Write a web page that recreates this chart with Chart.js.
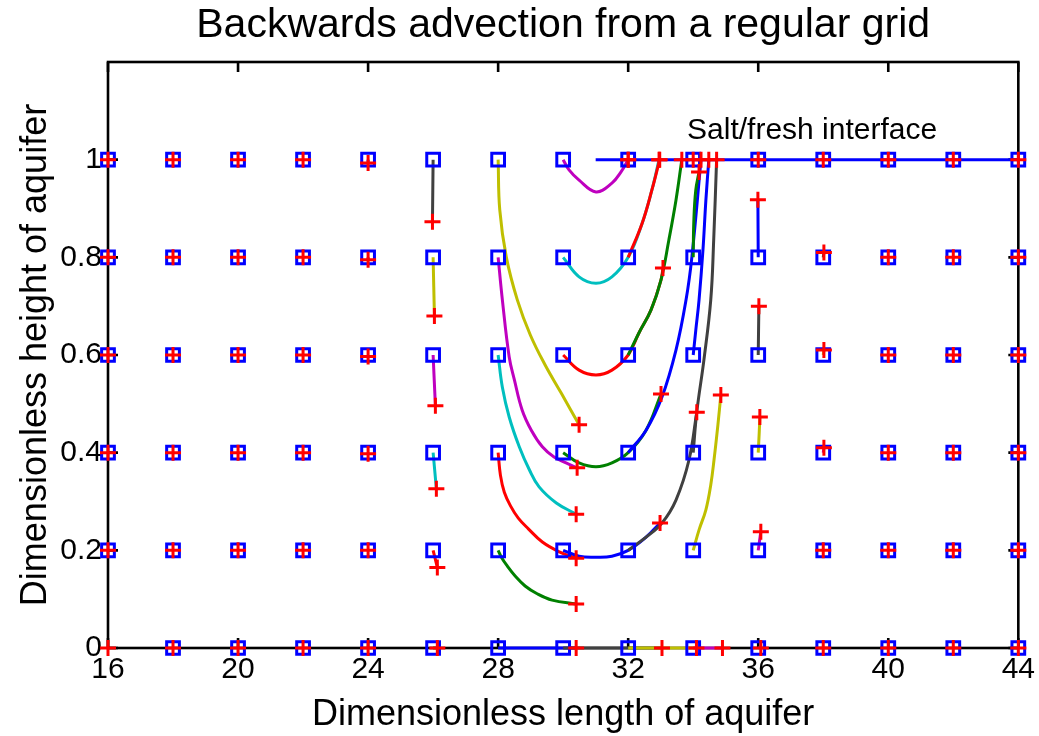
<!DOCTYPE html>
<html>
<head>
<meta charset="utf-8">
<script src="https://cdn.jsdelivr.net/npm/chart.js@4.4.1/dist/chart.umd.min.js"></script>
<style>
html,body{margin:0;padding:0;background:#fff;}
#wrap{width:1039px;height:736px;}
</style>
</head>
<body>
<div id="wrap"><canvas id="c" width="1039" height="736"></canvas></div>
<script>
// ---- data ----
const titleText = 'Backwards advection from a regular grid';
const xLabel = 'Dimensionless length of aquifer';
const yLabel = 'Dimensionless height of aquifer';
const noteText = 'Salt/fresh interface';
const noteX = 33.81, noteY = 1.060;

const gridX = [16,18,20,22,24,26,28,30,32,34,36,38,40,42,44];
const gridY = [0,0.2,0.4,0.6,0.8,1.0];
const xTicks = [16,20,24,28,32,36,40,44];
const yTicks = [0,0.2,0.4,0.6,0.8,1];

const interfaceX = [31, 44];
const interfaceY = [1, 1];

// trajectory of each grid point (column by column, rows y = 0 .. 1);
// first point = grid point (square), last point = end of backward advection (+)
const pathX = [
  // x = 16
  [16],[16],[16],[16],[16],[16],
  // x = 18
  [18],[18],[18],[18],[18],[18],
  // x = 20
  [20],[20],[20],[20],[20],[20],
  // x = 22
  [22],[22],[22],[22],[22],[22],
  // x = 24
  [24],[24],[24,24],[24,24],[24,24],[24,24],
  // x = 26
  [26,26.13],[26,26.13],[26,26.1],[26,26.07],[26,26.04],[26,25.98],
  // x = 28
  [28,30.40],
  [28,28.10,28.28,28.53,28.83,29.20,29.66,30.40],
  [28,28.07,28.19,28.38,28.62,28.93,29.36,29.88,30.40],
  [28,28.13,28.34,28.65,28.96,29.26,29.79,30.40],
  [28,28.13,28.34,28.50,28.74,29.02,29.36,29.72,30.09,30.43],
  [28,28.05,28.25,28.59,28.99,29.45,29.94,30.49],
  // x = 30
  [30,33.04],
  [30,30.49,31.01,31.50,32,32.55,32.98],
  [30,30.49,31.01,31.50,32,32.55,33.01],
  [30,30.49,31.01,31.50,32,32.33,32.70,33.01,33.07],
  [30,30.49,31.01,31.50,32,32.43,32.73,32.95],
  [30,30.18,30.49,31.01,31.50,31.78,32],
  // x = 32
  [32,34.10],
  [32,32.55,33.04,33.47,33.87,34.11],
  [32,32.55,33.04,33.47,33.78,33.96,34.24],
  [32,32.33,32.70,33.01,33.25,33.47,33.65],
  [32,32.43,32.73,32.97],
  [32],
  // x = 34
  [34,34.90],
  [34,34.18,34.39,34.54,34.64,34.76,34.85],
  [34,34.11,34.33,34.54,34.63,34.72],
  [34,34.08,34.18,34.30,34.39,34.48],
  [34,34.02,34.08,34.18],
  [34],
  // x = 36
  [36,36.08],[36,36.08],[36,36.03,36.05],[36,36.02],[36,35.99],[36],
  // x = 38
  [38],[38],[38,38.02],[38,38.02],[38,38.02],[38],
  // x = 40
  [40],[40],[40],[40],[40],[40],
  // x = 42
  [42],[42],[42],[42],[42],[42],
  // x = 44
  [44],[44],[44],[44],[44],[44]
];
const pathY = [
  // x = 16
  [0],[0.2],[0.4],[0.6],[0.8],[1],
  // x = 18
  [0],[0.2],[0.4],[0.6],[0.8],[1],
  // x = 20
  [0],[0.2],[0.4],[0.6],[0.8],[1],
  // x = 22
  [0],[0.2],[0.4],[0.6],[0.8],[1],
  // x = 24
  [0],[0.2],[0.4,0.398],[0.6,0.597],[0.8,0.795],[1,0.993],
  // x = 26
  [0,0],[0.2,0.165],[0.4,0.326],[0.6,0.496],[0.8,0.68],[1,0.873],
  // x = 28
  [0,0],
  [0.2,0.186,0.168,0.147,0.127,0.111,0.098,0.090],
  [0.4,0.354,0.319,0.291,0.266,0.244,0.217,0.197,0.184],
  [0.6,0.534,0.473,0.412,0.365,0.330,0.297,0.274],
  [0.8,0.713,0.596,0.549,0.487,0.446,0.412,0.391,0.379,0.369],
  [1,0.897,0.801,0.713,0.641,0.579,0.522,0.457],
  // x = 30
  [0,0],
  [0.2,0.188,0.186,0.188,0.2,0.227,0.256],
  [0.4,0.379,0.371,0.379,0.4,0.446,0.52],
  [0.6,0.569,0.559,0.569,0.6,0.645,0.692,0.754,0.778],
  [0.8,0.760,0.747,0.760,0.8,0.870,0.938,1.0],
  [1,0.979,0.958,0.934,0.952,0.975,1],
  // x = 32
  [0,0],
  [0.2,0.227,0.256,0.303,0.385,0.483],
  [0.4,0.446,0.514,0.610,0.713,0.801,1.0],
  [0.6,0.645,0.692,0.754,0.835,0.917,1.0],
  [0.8,0.870,0.938,1.0],
  [1],
  // x = 34
  [0,0],
  [0.2,0.242,0.283,0.334,0.385,0.457,0.518],
  [0.4,0.483,0.590,0.713,0.835,1.0],
  [0.6,0.651,0.713,0.815,0.917,1.0],
  [0.8,0.876,0.938,0.975],
  [1],
  // x = 36
  [0,0],[0.2,0.238],[0.4,0.44,0.473],[0.6,0.70],[0.8,0.918],[1],
  // x = 38
  [0],[0.2],[0.4,0.41],[0.6,0.61],[0.8,0.81],[1],
  // x = 40
  [0],[0.2],[0.4],[0.6],[0.8],[1],
  // x = 42
  [0],[0.2],[0.4],[0.6],[0.8],[1],
  // x = 44
  [0],[0.2],[0.4],[0.6],[0.8],[1]
];

// ---- styles ----
const FONT = '"Liberation Sans", Arial, Helvetica, sans-serif';
const palette = ['#0000ff','#008000','#ff0000','#00bfbf','#bf00bf','#bfbf00','#404040'];
const TICK_LEN = 10;

const datasets = [];
const squares = [];
const crosses = [];
let idx = 0;
for (let c = 0; c < gridX.length; c++) {
  for (let r = 0; r < gridY.length; r++, idx++) {
    const xs = pathX[idx], ys = pathY[idx];
    const k = (gridX[c] / 2) * 6 + r; // position in MATLAB colour order
    if (xs.length > 1) {
      datasets.push({
        data: xs.map((v, j) => ({x: v, y: ys[j]})),
        showLine: true,
        borderColor: palette[k % 7],
        borderWidth: 3,
        pointRadius: 0,
        tension: 0.4,
        clip: false,
        order: 3000 - k
      });
    }
    if (!(c === 0 && r === 0)) squares.push({x: gridX[c], y: gridY[r]});
    crosses.push({x: xs[xs.length - 1], y: ys[ys.length - 1]});
  }
}
datasets.push({
  data: interfaceX.map((v, j) => ({x: v, y: interfaceY[j]})),
  showLine: true, borderColor: '#0000ff', borderWidth: 3, pointRadius: 0,
  clip: false, order: 10
});
datasets.push({
  data: squares, showLine: false, pointStyle: 'rect', pointRadius: 9,
  pointBorderColor: '#0000ff', borderColor: '#0000ff',
  pointBackgroundColor: 'rgba(0,0,0,0)', backgroundColor: 'rgba(0,0,0,0)',
  pointBorderWidth: 3, borderWidth: 3, clip: false, order: 1
});
datasets.push({
  data: crosses, showLine: false, pointStyle: 'cross', pointRadius: 8,
  pointBorderColor: '#ff0000', borderColor: '#ff0000', backgroundColor: '#ff0000',
  pointBorderWidth: 3, borderWidth: 3, clip: false, order: 0
});

const frame = {
  id: 'frame',
  beforeDatasetsDraw(chart) {
    const {ctx, chartArea: a, scales: {x, y}} = chart;
    ctx.save();
    ctx.strokeStyle = '#000';
    ctx.lineWidth = 2.6;
    ctx.strokeRect(a.left, a.top, a.right - a.left, a.bottom - a.top);
    ctx.beginPath();
    xTicks.forEach(v => {
      const p = x.getPixelForValue(v);
      ctx.moveTo(p, a.bottom); ctx.lineTo(p, a.bottom - TICK_LEN);
      ctx.moveTo(p, a.top); ctx.lineTo(p, a.top + TICK_LEN);
    });
    yTicks.forEach(v => {
      const p = y.getPixelForValue(v);
      ctx.moveTo(a.left, p); ctx.lineTo(a.left + TICK_LEN, p);
      ctx.moveTo(a.right, p); ctx.lineTo(a.right - TICK_LEN, p);
    });
    ctx.stroke();
    ctx.restore();
  },
  afterDatasetsDraw(chart) {
    const {ctx, scales: {x, y}} = chart;
    ctx.save();
    ctx.fillStyle = '#000';
    ctx.font = '30px ' + FONT;
    ctx.textAlign = 'left';
    ctx.textBaseline = 'middle';
    ctx.fillText(noteText, x.getPixelForValue(noteX), y.getPixelForValue(noteY));
    ctx.restore();
  }
};

Chart.defaults.font.family = FONT;
Chart.defaults.color = '#000';

new Chart(document.getElementById('c'), {
  type: 'scatter',
  data: {datasets},
  options: {
    responsive: false,
    animation: false,
    events: [],
    layout: {padding: {left: 0, right: 19, top: 0, bottom: 0}},
    plugins: {
      legend: {display: false},
      tooltip: {enabled: false},
      title: {
        display: true, text: titleText, fullSize: false,
        font: {size: 41, weight: 'normal', lineHeight: 1.1},
        color: '#000', padding: {top: 3, bottom: 13.9}
      }
    },
    scales: {
      x: {
        type: 'linear', position: 'bottom', min: 16, max: 44,
        afterBuildTicks: s => { s.ticks = xTicks.map(v => ({value: v})); },
        afterFit: s => { s.height = 88; },
        ticks: {font: {size: 30}, color: '#000', padding: 4, maxRotation: 0, autoSkip: false,
                callback: v => String(v)},
        grid: {display: false, drawTicks: false},
        border: {display: false},
        title: {display: true, text: xLabel, font: {size: 36, lineHeight: 1.15}, color: '#000',
                padding: {top: 0, bottom: 0}}
      },
      y: {
        type: 'linear', position: 'left', min: 0, max: 1.2,
        afterBuildTicks: s => { s.ticks = yTicks.map(v => ({value: v})); },
        afterFit: s => { s.width = 108; },
        ticks: {font: {size: 30}, color: '#000', padding: 6, autoSkip: false,
                callback: v => String(Math.round(v * 10) / 10)},
        grid: {display: false, drawTicks: false},
        border: {display: false},
        title: {display: true, text: yLabel, font: {size: 36}, color: '#000',
                padding: {top: 14, bottom: 0}}
      }
    }
  },
  plugins: [frame]
});
</script>
</body>
</html>
